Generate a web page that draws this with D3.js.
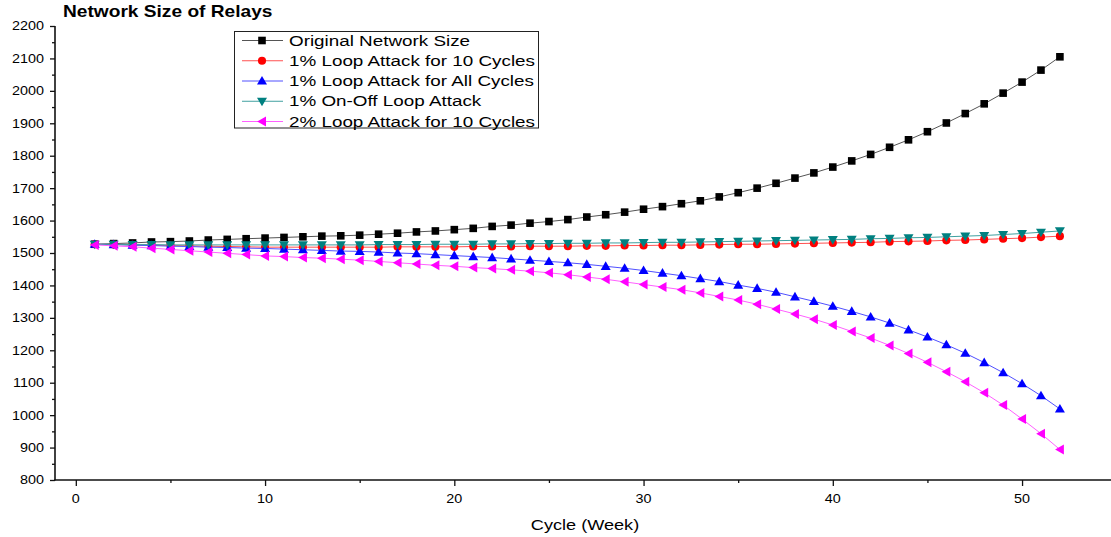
<!DOCTYPE html>
<html>
<head>
<meta charset="utf-8">
<script src="https://cdn.jsdelivr.net/npm/d3@7"></script>
<style>
  html, body { margin: 0; padding: 0; background: #fff; }
  svg { display: block; }
  text { font-family: "Liberation Sans", Arial, Helvetica, sans-serif; fill: #000; }
</style>
</head>
<body>
<svg id="chart" width="1111" height="537"></svg>
<script>
// Cycle index (weeks)
const cycles = d3.range(1, 53);

// Network size per cycle for each scenario
const originalSize = [1527, 1529, 1531, 1534, 1535, 1537, 1540, 1542, 1544, 1546, 1548, 1550, 1552, 1553, 1555, 1558, 1561, 1565, 1568, 1572,
  1576, 1582, 1586, 1592, 1597, 1603, 1611, 1618, 1626, 1635, 1643, 1652, 1661, 1673, 1686, 1700, 1715, 1731, 1747, 1765,
  1784, 1804, 1826, 1849, 1874, 1901, 1930, 1960, 1993, 2027, 2064, 2105];
const loop10 = [1527, 1526, 1525, 1524, 1523, 1522, 1521, 1520, 1519, 1518, 1518, 1518, 1518, 1518, 1518, 1518, 1519, 1519, 1519, 1519,
  1520, 1520, 1520, 1521, 1521, 1521, 1522, 1522, 1523, 1523, 1524, 1524, 1525, 1526, 1527, 1527, 1528, 1529, 1530, 1531,
  1532, 1533, 1535, 1536, 1537, 1539, 1540, 1542, 1544, 1546, 1549, 1552];
const loopAll = [1527, 1526, 1524, 1523, 1521, 1520, 1518, 1517, 1515, 1514, 1512, 1510, 1508, 1506, 1505, 1503, 1500, 1498, 1495, 1492,
  1489, 1486, 1482, 1478, 1474, 1470, 1465, 1459, 1453, 1446, 1438, 1430, 1421, 1412, 1401, 1391, 1379, 1365, 1351, 1336,
  1320, 1303, 1284, 1263, 1241, 1217, 1191, 1162, 1131, 1097, 1060, 1019];
const onOff = [1527, 1527, 1526, 1526, 1525, 1525, 1525, 1525, 1525, 1525, 1525, 1525, 1525, 1525, 1525, 1526, 1526, 1526, 1527, 1527,
  1527, 1528, 1528, 1529, 1529, 1530, 1530, 1531, 1531, 1532, 1533, 1533, 1534, 1535, 1536, 1537, 1538, 1539, 1540, 1541,
  1542, 1544, 1545, 1547, 1548, 1550, 1552, 1554, 1557, 1560, 1564, 1568];
const loop10x2 = [1525, 1522, 1519, 1515, 1511, 1507, 1503, 1499, 1495, 1491, 1489, 1486, 1484, 1481, 1478, 1474, 1470, 1466, 1462, 1459,
  1455, 1452, 1448, 1444, 1439, 1433, 1426, 1419, 1411, 1403, 1395, 1387, 1377, 1366, 1355, 1342, 1327, 1312, 1296, 1278,
  1258, 1238, 1215, 1190, 1163, 1134, 1103, 1069, 1031, 988, 943, 894];

const seriesNames = ["Original Network Size", "1% Loop Attack for 10 Cycles", "1% Loop Attack for All Cycles",
  "1% On-Off Loop Attack", "2% Loop Attack for 10 Cycles"];
const seriesValues = [originalSize, loop10, loopAll, onOff, loop10x2];
const markerColors = ["#000000", "#ff0000", "#0000ff", "#008080", "#ff00ff"];
const lineColors = ["#555555", "#ff5050", "#5050ff", "#40a0a0", "#ff60ff"];
const markerShapes = ["square", "circle", "up", "down", "left"];

const xTicks = [0, 10, 20, 30, 40, 50];
const yTicks = d3.range(800, 2201, 100);

const chartTitle = "Network Size of Relays";
const xTitle = "Cycle (Week)";

const svg = d3.select("#chart");
const x = d3.scaleLinear().domain([-1.1, 54.7]).range([55, 1111]);
const y = d3.scaleLinear().domain([800, 2200]).range([480, 26]);

// Glyph text in this chart is drawn horizontally widened
const SX = 1.22;
function stretchedText(g, tx, ty, str, size, anchor, sx) {
  return g.append("text")
    .attr("transform", `translate(${tx},${ty}) scale(${sx || SX},1)`)
    .attr("text-anchor", anchor || "start")
    .style("font-size", size + "px")
    .text(str);
}

function markerPath(shape) {
  const s = 4.2;
  switch (shape) {
    case "square": return `M${-3.8},${-3.8}h7.6v7.6h-7.6z`;
    case "circle": return d3.symbol(d3.symbolCircle, 52)();
    case "up": return `M0,${-s - 0.8}L${s + 0.8},${s - 0.6}L${-s - 0.8},${s - 0.6}Z`;
    case "down": return `M0,${s + 0.8}L${s + 0.8},${-s + 0.6}L${-s - 0.8},${-s + 0.6}Z`;
    case "left": return `M${-s - 0.6},0L${s - 0.2},${-s - 0.8}L${s - 0.2},${s + 0.8}Z`;
  }
}

// Axes
const axisG = svg.append("g");
const yAxis = d3.axisLeft(y).tickValues(yTicks).tickSize(5).tickFormat("");
axisG.append("g").attr("transform", "translate(55,0)").call(yAxis);
const yMinor = d3.axisLeft(y).tickValues(d3.range(850, 2200, 100)).tickSize(3).tickFormat("");
axisG.append("g").attr("transform", "translate(55,0)").call(yMinor);

const xAxis = d3.axisBottom(x).tickValues(xTicks).tickSize(6).tickFormat("");
axisG.append("g").attr("transform", "translate(0,480)").call(xAxis);
const xMinor = d3.axisBottom(x).tickValues([5, 15, 25, 35, 45]).tickSize(3).tickFormat("");
axisG.append("g").attr("transform", "translate(0,480)").call(xMinor);

axisG.selectAll(".domain").remove();
axisG.selectAll("line").attr("stroke", "#111").attr("stroke-width", 1.3);
axisG.append("line").attr("x1", 55).attr("x2", 55).attr("y1", y(2200)).attr("y2", 480.6)
  .attr("stroke", "#111").attr("stroke-width", 1.6);
axisG.append("line").attr("x1", 54.2).attr("x2", 1111).attr("y1", 480).attr("y2", 480)
  .attr("stroke", "#111").attr("stroke-width", 1.6);

yTicks.forEach(v => stretchedText(axisG, 44, y(v) + 4.4, String(v), 12.5, "end", 1.15));
xTicks.forEach(v => stretchedText(axisG, x(v), 503, String(v), 12.5, "middle", 1.15));

// Titles
stretchedText(svg, 63, 17, chartTitle, 16.5, "start", 1.16).style("font-weight", "bold");
stretchedText(svg, 585, 530, xTitle, 14.5, "middle", 1.25);

// Series
const lineGen = d3.line().x((d, i) => x(cycles[i])).y(d => y(d));
const plot = svg.append("g");
seriesValues.forEach((vals, k) => {
  const g = plot.append("g");
  g.append("path").datum(vals)
    .attr("d", lineGen)
    .attr("fill", "none")
    .attr("stroke", lineColors[k])
    .attr("stroke-width", 1);
  g.selectAll("path.mk").data(vals).enter().append("path")
    .attr("class", "mk")
    .attr("d", markerPath(markerShapes[k]))
    .attr("transform", (d, i) => `translate(${x(cycles[i])},${y(d)})`)
    .attr("fill", markerColors[k]);
});

// Legend
const legend = svg.append("g");
legend.append("rect").attr("x", 234.5).attr("y", 31.5).attr("width", 304).attr("height", 96.5)
  .attr("fill", "#fff").attr("stroke", "#222").attr("stroke-width", 1);
const rowY = d3.scaleLinear().domain([0, 4]).range([40.5, 121.5]);
seriesNames.forEach((name, k) => {
  const cy = rowY(k);
  legend.append("line").attr("x1", 242).attr("x2", 283).attr("y1", cy).attr("y2", cy)
    .attr("stroke", lineColors[k]).attr("stroke-width", 1);
  legend.append("path").attr("d", markerPath(markerShapes[k]))
    .attr("transform", `translate(262,${cy})`).attr("fill", markerColors[k]);
  stretchedText(legend, 289, cy + 5.2, name, 14.5, "start", 1.3);
});
</script>
</body>
</html>
